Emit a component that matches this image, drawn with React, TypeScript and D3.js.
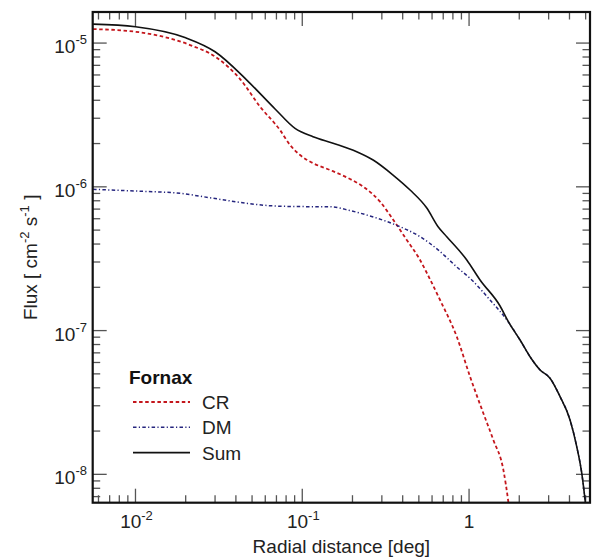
import React from "react";
import * as d3 from "d3";

// ---- data (radial distance in deg, flux in cm^-2 s^-1) ----
const sumR = [0.00557, 0.01, 0.02, 0.03, 0.0465, 0.0687, 0.0905, 0.116, 0.153, 0.212, 0.266, 0.35, 0.443, 0.558, 0.652, 0.735, 0.969, 1.164, 1.534, 1.72, 2.022, 2.321, 2.666, 3.059, 3.513, 4.032, 4.422, 4.739, 4.96, 5.05];
const sumF = [1.355e-5, 1.298e-5, 1.088e-5, 8.7e-6, 5.53e-6, 3.48e-6, 2.55e-6, 2.23e-6, 2.01e-6, 1.754e-6, 1.536e-6, 1.208e-6, 9.5e-7, 7.12e-7, 5.28e-7, 4.5e-7, 3.1e-7, 2.25e-7, 1.483e-7, 1.153e-7, 8.6e-8, 6.58e-8, 5.32e-8, 4.66e-8, 3.47e-8, 2.39e-8, 1.558e-8, 1.018e-8, 6.64e-9, 5.5e-9];

const crR = [0.00557, 0.01, 0.02125, 0.03013, 0.04238, 0.05585, 0.07358, 0.08452, 0.097, 0.1166, 0.1468, 0.1934, 0.2325, 0.2927, 0.3517, 0.4231, 0.5084, 0.558, 0.67, 0.8439, 1.014, 1.218, 1.398, 1.606, 1.72, 1.75];
const crF = [1.251e-5, 1.199e-5, 9.69e-6, 8.03e-6, 5.62e-6, 3.61e-6, 2.48e-6, 1.953e-6, 1.664e-6, 1.457e-6, 1.309e-6, 1.133e-6, 1.0016e-6, 7.88e-7, 5.88e-7, 4.27e-7, 3.1e-7, 2.52e-7, 1.632e-7, 9.07e-8, 4.78e-8, 2.66e-8, 1.735e-8, 1.073e-8, 6.43e-9, 5.5e-9];

const dmR = [0.00557, 0.01, 0.01851, 0.02931, 0.0465, 0.0641, 0.0927, 0.1468, 0.1934, 0.2435, 0.321, 0.3858, 0.5084, 0.6547, 0.8439, 1.038, 1.336, 1.72, 2.022, 2.321, 2.666, 3.059, 3.513, 4.032, 4.422, 4.739, 4.96, 5.05];
const dmF = [9.61e-7, 9.35e-7, 9.01e-7, 8.32e-7, 7.68e-7, 7.39e-7, 7.29e-7, 7.27e-7, 6.84e-7, 6.37e-7, 5.74e-7, 5.28e-7, 4.5e-7, 3.63e-7, 2.77e-7, 2.25e-7, 1.632e-7, 1.148e-7, 8.6e-8, 6.58e-8, 5.32e-8, 4.66e-8, 3.47e-8, 2.39e-8, 1.558e-8, 1.018e-8, 6.64e-9, 5.5e-9];

const xMajorTicks = [0.01, 0.1, 1];
const xTickBase = ["10", "10", "1"];
const xTickExp = ["-2", "-1", ""];
const yMajorTicks = [1e-8, 1e-7, 1e-6, 1e-5];
const yTickBase = ["10", "10", "10", "10"];
const yTickExp = ["-8", "-7", "-6", "-5"];

const legendTitle = "Fornax";
const seriesNames = ["CR", "DM", "Sum"];

const W = 595;
const H = 558;
const m = { left: 92.7, top: 12, right: 5, bottom: 55.3 };
const FONT = "'Liberation Sans', Arial, Helvetica, sans-serif";

export default function App() {
  const x = d3.scaleLog().domain([0.00554, 5.31]).range([m.left, W - m.right]);
  const y = d3.scaleLog().domain([6.35e-9, 1.645e-5]).range([H - m.bottom, m.top]);

  const line = d3
    .line<[number, number]>()
    .x((d) => x(d[0]))
    .y((d) => y(d[1]))
    .curve(d3.curveMonotoneX);

  const zip = (a: number[], b: number[]) => a.map((v, i) => [v, b[i]] as [number, number]);

  const x0 = m.left, x1 = W - m.right, y0 = m.top, y1 = H - m.bottom;

  const minorX: number[] = [];
  for (let e = -3; e <= 1; e++)
    for (let k = 2; k <= 9; k++) {
      const v = k * Math.pow(10, e);
      if (v > 0.00554 && v < 5.31) minorX.push(v);
    }
  const minorY: number[] = [];
  for (let e = -9; e <= -5; e++)
    for (let k = 2; k <= 9; k++) {
      const v = k * Math.pow(10, e);
      if (v > 6.35e-9 && v < 1.645e-5) minorY.push(v);
    }

  const MAJ = 14, MIN = 7.5;
  const tickColor = "#555";
  const red = "#c4161c";
  const blue = "#25257e";

  const series = [
    { name: seriesNames[0], d: zip(crR, crF), color: red, dash: "3.5,2.6", w: 1.8 },
    { name: seriesNames[1], d: zip(dmR, dmF), color: blue, dash: "3.5,2.3,1.2,2.3", w: 1.5 },
    { name: seriesNames[2], d: zip(sumR, sumF), color: "#111", dash: "", w: 1.6 },
  ];

  return (
    <svg width={W} height={H} style={{ position: "absolute", left: 0, top: 0, background: "#fff" }} fontFamily={FONT}>
      <defs>
        <clipPath id="plot">
          <rect x={x0} y={y0} width={x1 - x0} height={y1 - y0} />
        </clipPath>
      </defs>
      <rect x={0} y={0} width={W} height={H} fill="#fff" />
      {/* ticks */}
      <g stroke={tickColor} strokeWidth={1.3}>
        {minorX.map((v) => (
          <g key={"mx" + v}>
            <line x1={x(v)} x2={x(v)} y1={y1} y2={y1 - MIN} />
            <line x1={x(v)} x2={x(v)} y1={y0} y2={y0 + MIN} />
          </g>
        ))}
        {xMajorTicks.map((v) => (
          <g key={"Mx" + v}>
            <line x1={x(v)} x2={x(v)} y1={y1} y2={y1 - MAJ} />
            <line x1={x(v)} x2={x(v)} y1={y0} y2={y0 + MAJ} />
          </g>
        ))}
        {minorY.map((v) => (
          <g key={"my" + v}>
            <line y1={y(v)} y2={y(v)} x1={x0} x2={x0 + MIN} />
            <line y1={y(v)} y2={y(v)} x1={x1} x2={x1 - MIN} />
          </g>
        ))}
        {yMajorTicks.map((v) => (
          <g key={"My" + v}>
            <line y1={y(v)} y2={y(v)} x1={x0} x2={x0 + MAJ} />
            <line y1={y(v)} y2={y(v)} x1={x1} x2={x1 - MAJ} />
          </g>
        ))}
      </g>
      {/* curves */}
      <g clipPath="url(#plot)" fill="none">
        {series.map((s) => (
          <path key={s.name} d={line(s.d) || ""} stroke={s.color} strokeWidth={s.w} strokeDasharray={s.dash || undefined} />
        ))}
      </g>
      {/* frame */}
      <rect x={x0} y={y0} width={x1 - x0} height={y1 - y0} fill="none" stroke="#111" strokeWidth={2.2} />
      {/* tick labels */}
      <g fontSize={19} fill="#222">
        {xMajorTicks.map((v, i) => (
          <text key={"xl" + v} x={x(v) + (xTickExp[i] ? 1 : 0)} y={528} textAnchor="middle">
            {xTickBase[i]}
            {xTickExp[i] && (
              <tspan fontSize={13} dy={-8}>
                {xTickExp[i]}
              </tspan>
            )}
          </text>
        ))}
        {yMajorTicks.map((v, i) => (
          <text key={"yl" + v} x={87} y={y(v) + 10} textAnchor="end">
            {yTickBase[i]}
            <tspan fontSize={13} dy={-9}>
              {yTickExp[i]}
            </tspan>
          </text>
        ))}
      </g>
      {/* axis titles */}
      <text x={(x0 + x1) / 2} y={553} textAnchor="middle" fontSize={19} fill="#222">
        Radial distance [deg]
      </text>
      <text transform={`translate(37,${(y0 + y1) / 2}) rotate(-90)`} textAnchor="middle" fontSize={19} fill="#222">
        Flux [ cm<tspan fontSize={13} dy={-8}>-2</tspan>
        <tspan dy={8}> s</tspan>
        <tspan fontSize={13} dy={-8}>-1</tspan>
        <tspan dy={8}> ]</tspan>
      </text>
      {/* legend */}
      <text x={129} y={384} fontSize={19} fontWeight="bold" fill="#111">
        {legendTitle}
      </text>
      {series.map((s, i) => (
        <g key={"lg" + s.name}>
          <line x1={133} x2={190} y1={402 + i * 25.3} y2={402 + i * 25.3} stroke={s.color} strokeWidth={s.w} strokeDasharray={s.dash || undefined} />
          <text x={202} y={409 + i * 25.3} fontSize={19} fill="#222">
            {s.name}
          </text>
        </g>
      ))}
    </svg>
  );
}
